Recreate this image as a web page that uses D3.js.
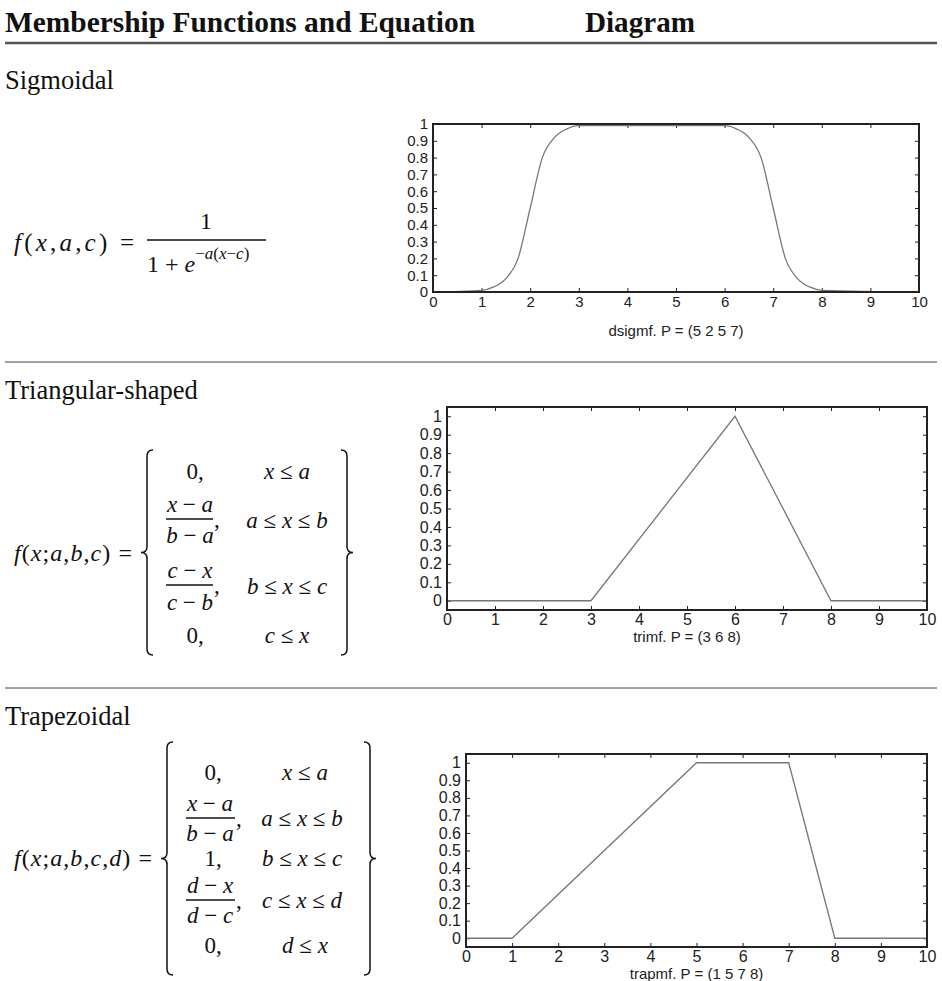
<!DOCTYPE html>
<html>
<head>
<meta charset="utf-8">
<script src="https://cdn.jsdelivr.net/npm/d3@7"></script>
<style>
  body { margin: 0; background: #fff; }
  .serif { font-family: "Liberation Serif", "Times New Roman", serif; fill: #111; }
</style>
</head>
<body>
<script>
// chart data
var xTicks = [0, 1, 2, 3, 4, 5, 6, 7, 8, 9, 10];
var yTicks = [0, 0.1, 0.2, 0.3, 0.4, 0.5, 0.6, 0.7, 0.8, 0.9, 1];

// dsigmf P = (5 2 5 7)
var sigX = [0, 1, 1.25, 1.5, 1.75, 2, 2.25, 2.5, 2.75, 3, 6, 6.25, 6.5, 6.75, 7, 7.25, 7.5, 7.75, 8, 10];
var sigY = [0, 0.01, 0.03, 0.08, 0.2, 0.5, 0.8, 0.92, 0.97, 0.99, 0.99, 0.97, 0.92, 0.8, 0.5, 0.2, 0.08, 0.03, 0.01, 0];

// trimf P = (3 6 8)
var triX = [0, 3, 6, 8, 10];
var triY = [0, 0, 1, 0, 0];

// trapmf P = (1 5 7 8)
var trapX = [0, 1, 5, 7, 8, 10];
var trapY = [0, 0, 1, 1, 0, 0];

var sectionTitles = ["Sigmoidal", "Triangular-shaped", "Trapezoidal"];
var axisTitles = ["dsigmf. P = (5 2 5 7)", "trimf. P = (3 6 8)", "trapmf. P = (1 5 7 8)"];

var width = 942, height = 981;

var svg = d3.select("body").append("svg")
    .attr("width", width)
    .attr("height", height);

// header
svg.append("text").attr("class", "serif")
    .attr("x", 5).attr("y", 32)
    .attr("font-size", 30).attr("font-weight", "bold")
    .attr("textLength", 470).attr("lengthAdjust", "spacingAndGlyphs")
    .text("Membership Functions and Equation");
svg.append("text").attr("class", "serif")
    .attr("x", 585).attr("y", 32)
    .attr("font-size", 30).attr("font-weight", "bold")
    .attr("textLength", 110).attr("lengthAdjust", "spacingAndGlyphs")
    .text("Diagram");

svg.append("line").attr("x1", 5).attr("x2", 937).attr("y1", 43).attr("y2", 43)
    .attr("stroke", "#555").attr("stroke-width", 2.5);
[362, 688].forEach(function(y) {
    svg.append("line").attr("x1", 5).attr("x2", 937).attr("y1", y).attr("y2", y)
        .attr("stroke", "#444").attr("stroke-width", 1);
});

// section titles
var titleY = [89, 399, 725];
sectionTitles.forEach(function(t, i) {
    svg.append("text").attr("class", "serif")
        .attr("x", 5).attr("y", titleY[i])
        .attr("font-size", 26.5)
        .text(t);
});

// ---------- charts ----------
function drawChart(opt) {
    var x = d3.scaleLinear().domain([0, 10]).range([opt.left, opt.right]);
    var y = d3.scaleLinear().domain(opt.yDomain).range([opt.bottom, opt.top]);
    var g = svg.append("g");

    var fmt = function(d) { return d3.format("")(Math.round(d * 10) / 10); };

    g.append("g").attr("transform", "translate(0," + opt.bottom + ")")
        .call(d3.axisBottom(x).tickValues(xTicks).tickSize(-4).tickPadding(4).tickFormat(fmt));
    g.append("g").attr("transform", "translate(0," + opt.top + ")")
        .call(d3.axisTop(x).tickValues(xTicks).tickSize(-4).tickFormat(""));
    g.append("g").attr("transform", "translate(" + opt.left + ",0)")
        .call(d3.axisLeft(y).tickValues(yTicks).tickSize(-4).tickPadding(5).tickFormat(fmt));
    g.append("g").attr("transform", "translate(" + opt.right + ",0)")
        .call(d3.axisRight(y).tickValues(yTicks).tickSize(-4).tickFormat(""));

    g.selectAll(".domain").remove();
    g.selectAll(".tick line").attr("stroke", "#222").attr("stroke-width", 1);
    g.selectAll(".tick text")
        .attr("font-family", "Liberation Sans, Arial, sans-serif")
        .attr("font-size", opt.fontSize)
        .attr("fill", "#222");

    var pts = opt.xs.map(function(d, i) { return [d, opt.ys[i]]; });
    var line = d3.line()
        .x(function(d) { return x(d[0]); })
        .y(function(d) { return y(d[1]); })
        .curve(opt.curve || d3.curveLinear);

    g.append("path").datum(pts)
        .attr("d", line)
        .attr("fill", "none")
        .attr("stroke", "#777")
        .attr("stroke-width", 1.3);

    g.append("rect")
        .attr("x", opt.left).attr("y", opt.top)
        .attr("width", opt.right - opt.left).attr("height", opt.bottom - opt.top)
        .attr("fill", "none").attr("stroke", "#222").attr("stroke-width", 2);

    g.append("text")
        .attr("x", (opt.left + opt.right) / 2).attr("y", opt.titleY)
        .attr("text-anchor", "middle")
        .attr("font-family", "Liberation Sans, Arial, sans-serif")
        .attr("font-size", 15).attr("fill", "#222")
        .text(opt.title);
}

drawChart({left: 433, right: 919, top: 124, bottom: 292, yDomain: [0, 1],
    xs: sigX, ys: sigY, curve: d3.curveMonotoneX, fontSize: 15, title: axisTitles[0], titleY: 336});
drawChart({left: 447, right: 927, top: 407, bottom: 610, yDomain: [-0.05, 1.05],
    xs: triX, ys: triY, fontSize: 16, title: axisTitles[1], titleY: 642});
drawChart({left: 466, right: 927, top: 754, bottom: 947, yDomain: [-0.05, 1.05],
    xs: trapX, ys: trapY, fontSize: 16, title: axisTitles[2], titleY: 979});

// ---------- equations ----------
var mathSize = 23;

// letters italic, everything else upright
function mathText(g, x, y, str, anchor, size) {
    var t = g.append("text").attr("class", "serif")
        .attr("x", x).attr("y", y)
        .attr("font-size", size || mathSize)
        .attr("text-anchor", anchor || "start");
    var re = /([a-z]+)|([^a-z]+)/g, m;
    while ((m = re.exec(str)) !== null) {
        t.append("tspan")
            .attr("font-style", m[1] ? "italic" : "normal")
            .text(m[0]);
    }
    return t;
}

function bar(g, x1, x2, y) {
    g.append("line").attr("x1", x1).attr("x2", x2).attr("y1", y).attr("y2", y)
        .attr("stroke", "#111").attr("stroke-width", 1.6);
}

function brace(g, x, y1, y2, dir) {
    // dir = 1 left brace, -1 right brace
    var ym = (y1 + y2) / 2, h = 6 * dir;
    var p = "M" + (x + h) + "," + y1 +
        " Q" + x + "," + y1 + " " + x + "," + (y1 + 6) +
        " L" + x + "," + (ym - 6) +
        " Q" + x + "," + ym + " " + (x - h) + "," + ym +
        " Q" + x + "," + ym + " " + x + "," + (ym + 6) +
        " L" + x + "," + (y2 - 6) +
        " Q" + x + "," + y2 + " " + (x + h) + "," + y2;
    g.append("path").attr("d", p).attr("fill", "none")
        .attr("stroke", "#111").attr("stroke-width", 1.5);
}

var eq = svg.append("g");

// sigmoidal
mathText(eq, 14, 251, "f(x,a,c) =", "start", 25)
    .attr("textLength", 120).attr("lengthAdjust", "spacing");
mathText(eq, 206, 229, "1", "middle", 24);
bar(eq, 147, 266, 240);
var den = mathText(eq, 147, 272, "1 + e", "start", 24);
var sup = den.append("tspan").attr("dy", -13).attr("font-size", 17);
sup.append("tspan").text("\u2212");
sup.append("tspan").attr("font-style", "italic").text("a");
sup.append("tspan").text("(");
sup.append("tspan").attr("font-style", "italic").text("x");
sup.append("tspan").text("\u2212");
sup.append("tspan").attr("font-style", "italic").text("c");
sup.append("tspan").text(")");

// triangular
mathText(eq, 14, 561, "f(x;a,b,c) =", "start", 24)
    .attr("textLength", 118).attr("lengthAdjust", "spacing");
brace(eq, 147, 450, 655, 1);
brace(eq, 347, 450, 655, -1);
mathText(eq, 195, 479, "0,", "middle");
mathText(eq, 287, 479, "x \u2264 a", "middle");
mathText(eq, 190, 512, "x \u2212 a", "middle");
bar(eq, 166, 213, 519);
mathText(eq, 190, 543, "b \u2212 a", "middle");
mathText(eq, 214, 527, ",");
mathText(eq, 287, 528, "a \u2264 x \u2264 b", "middle");
mathText(eq, 190, 578, "c \u2212 x", "middle");
bar(eq, 166, 213, 585);
mathText(eq, 190, 610, "c \u2212 b", "middle");
mathText(eq, 214, 593, ",");
mathText(eq, 287, 594, "b \u2264 x \u2264 c", "middle");
mathText(eq, 195, 643, "0,", "middle");
mathText(eq, 287, 643, "c \u2264 x", "middle");

// trapezoidal
mathText(eq, 14, 866, "f(x;a,b,c,d) =", "start", 24)
    .attr("textLength", 138).attr("lengthAdjust", "spacing");
brace(eq, 167, 742, 975, 1);
brace(eq, 370, 742, 975, -1);
mathText(eq, 213, 780, "0,", "middle");
mathText(eq, 305, 780, "x \u2264 a", "middle");
mathText(eq, 210, 811, "x \u2212 a", "middle");
bar(eq, 186, 235, 818);
mathText(eq, 210, 841, "b \u2212 a", "middle");
mathText(eq, 236, 826, ",");
mathText(eq, 302, 826, "a \u2264 x \u2264 b", "middle");
mathText(eq, 213, 866, "1,", "middle");
mathText(eq, 302, 866, "b \u2264 x \u2264 c", "middle");
mathText(eq, 210, 893, "d \u2212 x", "middle");
bar(eq, 186, 235, 900);
mathText(eq, 210, 923, "d \u2212 c", "middle");
mathText(eq, 236, 908, ",");
mathText(eq, 302, 908, "c \u2264 x \u2264 d", "middle");
mathText(eq, 213, 953, "0,", "middle");
mathText(eq, 305, 953, "d \u2264 x", "middle");
</script>
</body>
</html>
